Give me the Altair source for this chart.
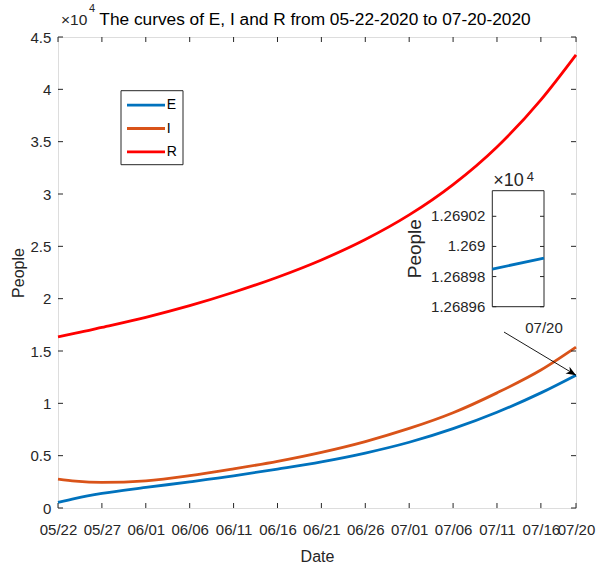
import altair as alt
import pandas as pd

# ---------------- data ----------------
days = [0, 2, 5, 10, 15, 20, 25, 30, 35, 40, 45, 50, 55, 59]
E_vals = [530, 920, 1390, 1960, 2500, 3070, 3720, 4410, 5250, 6280, 7580, 9150, 11000, 12689.92]
I_vals = [2760, 2560, 2440, 2600, 3090, 3740, 4460, 5320, 6350, 7600, 9100, 11000, 13180, 15370]
R_vals = [16360, 16700, 17260, 18220, 19330, 20610, 22050, 23700, 25650, 28000, 30900, 34500, 39000, 43300]
series = ["E", "I", "R"]
colors = ["#0072BD", "#D95319", "#FF0000"]

tick_days = [0, 5, 10, 15, 20, 25, 30, 35, 40, 45, 50, 55, 59]
tick_labels = ["05/22", "05/27", "06/01", "06/06", "06/11", "06/16", "06/21",
               "06/26", "07/01", "07/06", "07/11", "07/16", "07/20"]
y_ticks = [0, 5000, 10000, 15000, 20000, 25000, 30000, 35000, 40000, 45000]
x_domain = [0, 59]
y_domain = [0, 45000]

# zoomed inset (E near 07/20)
inset_x = [58.9998, 59.0]
inset_E = [12689.849, 12689.923]
inset_x_domain = [58.9998, 59.0]
inset_y_domain = [12689.6, 12690.37]
inset_y_ticks = [12689.6, 12689.8, 12690.0, 12690.2]
inset_y_labels = ["1.26896", "1.26898", "1.269", "1.26902"]
inset_x_ticks = [59.0]
inset_x_labels = ["07/20"]

# arrow pointing from the inset to the end of E
arrow_x = [50.8, 59.0]
arrow_y = [16810, 12689.92]

title_text = "The curves of E, I and R from 05-22-2020 to 07-20-2020"

# ---------------- layout / style ----------------
W, H = 518, 471
FONT = "Liberation Sans"
AX = "#262626"

rows = []
for name, vals in zip(series, [E_vals, I_vals, R_vals]):
    for d, v in zip(days, vals):
        rows.append({"day": d, "people": v, "series": name})
df = pd.DataFrame(rows)

df_xt = pd.DataFrame({"d": tick_days, "lo": y_domain[0], "hi": y_domain[1]})
df_yt = pd.DataFrame({"v": y_ticks, "lo": x_domain[0], "hi": x_domain[1]})
df_arrow = pd.DataFrame({"x0": [arrow_x[0]], "y0": [arrow_y[0]],
                         "x1": [arrow_x[1]], "y1": [arrow_y[1]]})
df_head = pd.DataFrame({"x": [arrow_x[1]], "y": [arrow_y[1]]})
df_sci = pd.DataFrame({"x": [x_domain[0]], "y": [y_domain[1]]})

df_inset = pd.DataFrame({"x": inset_x, "y": inset_E})
df_box = pd.DataFrame({"x0": [inset_x_domain[0]], "x1": [inset_x_domain[1]],
                       "y0": [inset_y_domain[0]], "y1": [inset_y_domain[1]]})
df_iyt = pd.DataFrame({"v": inset_y_ticks, "label": inset_y_labels,
                       "lo": inset_x_domain[0], "hi": inset_x_domain[1]})
df_ixl = pd.DataFrame({"x": inset_x_ticks, "label": inset_x_labels, "y": inset_y_domain[0]})
df_ititle = pd.DataFrame({"x": [inset_x_domain[0]],
                          "y": [(inset_y_domain[0] + inset_y_domain[1]) / 2]})
df_isci = pd.DataFrame({"x": [inset_x_domain[0]], "y": [inset_y_domain[1]]})

xs = alt.Scale(domain=x_domain, nice=False, zero=False)
ys = alt.Scale(domain=y_domain, nice=False, zero=False)


def mx(f, axis=None):
    return alt.X(f, type="quantitative", scale=xs, axis=axis)


def my(f, axis=None):
    return alt.Y(f, type="quantitative", scale=ys, axis=axis)


lab_js = "[" + ",".join("'%s'" % t for t in tick_labels) + "]"
val_js = "[" + ",".join(str(t) for t in tick_days) + "]"

x_axis = alt.Axis(values=tick_days, labelExpr=f"{lab_js}[indexof({val_js}, datum.value)]",
                  ticks=False, tickSize=0, domain=False, grid=False, labelPadding=14,
                  labelFont=FONT, labelFontSize=15, labelColor=AX,
                  labelFlush=False, labelOverlap=False,
                  title="Date", titleFont=FONT, titleFontSize=16, titleFontWeight="normal",
                  titleColor=AX, titleX=W / 2, titleY=48, titleBaseline="middle",
                  titleAlign="center")
y_axis = alt.Axis(values=y_ticks, labelExpr="format(datum.value/10000, '.1~f')",
                  ticks=False, tickSize=0, domain=False, grid=False, labelPadding=7.2,
                  labelFont=FONT, labelFontSize=15, labelColor=AX,
                  labelFlush=False, labelOverlap=False,
                  title="People", titleFont=FONT, titleFontSize=16, titleFontWeight="normal",
                  titleColor=AX, titleX=-40, titleY=H / 2, titleBaseline="middle",
                  titleAlign="center", titleAngle=270)

legend = alt.Legend(orient="none", legendX=62.5, legendY=53.2, title=None,
                    symbolType="M-2.303,0L2.303,0", symbolSize=272.25, symbolStrokeWidth=2.8,
                    symbolOffset=10.5, labelOffset=10.7, labelFont=FONT, labelFontSize=14,
                    labelColor="#000", padding=5, rowPadding=6.3, strokeColor=AX,
                    fillColor="white", symbolFillColor="transparent")

lines = alt.Chart(df).mark_line(strokeWidth=2.8, interpolate="monotone").encode(
    x=mx("day", x_axis),
    y=my("people", y_axis),
    color=alt.Color("series:N", scale=alt.Scale(domain=series, range=colors), legend=legend),
)

# inward ticks on all four sides of the main axes
tick_b = alt.Chart(df_xt).mark_rule(color=AX, strokeWidth=1, y2Offset=-5).encode(
    x=mx("d"), y=my("lo"), y2="lo:Q")
tick_t = alt.Chart(df_xt).mark_rule(color=AX, strokeWidth=1, y2Offset=5).encode(
    x=mx("d"), y=my("hi"), y2="hi:Q")
tick_l = alt.Chart(df_yt).mark_rule(color=AX, strokeWidth=1, x2Offset=5).encode(
    y=my("v"), x=mx("lo"), x2="lo:Q")
tick_r = alt.Chart(df_yt).mark_rule(color=AX, strokeWidth=1, x2Offset=-5).encode(
    y=my("v"), x=mx("hi"), x2="hi:Q")

arrow = alt.Chart(df_arrow).mark_rule(color="black", strokeWidth=0.9).encode(
    x=mx("x0"), y=my("y0"), x2="x1:Q", y2="y1:Q")
head = alt.Chart(df_head).mark_point(shape="M0,0L-0.55,1.4L0,1.0L0.55,1.4Z", filled=True,
                                     color="black", opacity=1, size=200, angle=121,
                                     strokeWidth=0).encode(x=mx("x"), y=my("y"))

sci1 = alt.Chart(df_sci).mark_text(text="×10", font=FONT, fontSize=15.5, color=AX,
                                   align="left", baseline="alphabetic",
                                   xOffset=3, yOffset=-12).encode(x=mx("x"), y=my("y"))
sci2 = alt.Chart(df_sci).mark_text(text="4", font=FONT, fontSize=11, color=AX,
                                   align="left", baseline="alphabetic",
                                   xOffset=31, yOffset=-25).encode(x=mx("x"), y=my("y"))

title = alt.Chart(df_sci).mark_text(text=title_text, font=FONT, fontSize=17.3, color="#000",
                                    align="center", baseline="alphabetic").encode(
    x=alt.value(257), y=alt.value(-12))

# ---------------- inset ----------------
BX0, BX1, BY0, BY1 = 434.3, 486.0, 269.7, 153.7
isx = alt.Scale(domain=inset_x_domain, range=[BX0, BX1], nice=False, zero=False)
isy = alt.Scale(domain=inset_y_domain, range=[BY0, BY1], nice=False, zero=False)


def ix(f):
    return alt.X(f, type="quantitative", scale=isx, axis=None)


def iy(f):
    return alt.Y(f, type="quantitative", scale=isy, axis=None)


box = alt.Chart(df_box).mark_rect(fill="white", stroke=AX, strokeWidth=1).encode(
    x=ix("x0"), x2="x1:Q", y=iy("y0"), y2="y1:Q")
iline = alt.Chart(df_inset).mark_line(color=colors[0], strokeWidth=2.8).encode(
    x=ix("x"), y=iy("y"))
itick_l = alt.Chart(df_iyt).mark_rule(color=AX, strokeWidth=1, x2Offset=4).encode(
    y=iy("v"), x=ix("lo"), x2="lo:Q")
itick_r = alt.Chart(df_iyt).mark_rule(color=AX, strokeWidth=1, x2Offset=-4).encode(
    y=iy("v"), x=ix("hi"), x2="hi:Q")
iylab = alt.Chart(df_iyt).mark_text(font=FONT, fontSize=15, color=AX, align="right",
                                    baseline="middle", xOffset=-7).encode(
    x=ix("lo"), y=iy("v"), text="label:N")
ixlab = alt.Chart(df_ixl).mark_text(font=FONT, fontSize=15, color=AX, align="center",
                                    baseline="middle", yOffset=21.5).encode(
    x=ix("x"), y=iy("y"), text="label:N")
ititle = alt.Chart(df_ititle).mark_text(text="People", font=FONT, fontSize=19, color=AX,
                                        align="center", baseline="middle", angle=270,
                                        xOffset=-77).encode(x=ix("x"), y=iy("y"))
isci1 = alt.Chart(df_isci).mark_text(text="×10", font=FONT, fontSize=18, color=AX,
                                     align="left", baseline="alphabetic",
                                     xOffset=1, yOffset=-4.5).encode(x=ix("x"), y=iy("y"))
isci2 = alt.Chart(df_isci).mark_text(text="4", font=FONT, fontSize=13, color=AX,
                                     align="left", baseline="alphabetic",
                                     xOffset=34.4, yOffset=-10).encode(x=ix("x"), y=iy("y"))

chart = alt.layer(
    lines, tick_b, tick_t, tick_l, tick_r, arrow, head, sci1, sci2, title,
    box, iline, itick_l, itick_r, iylab, ixlab, ititle, isci1, isci2,
).resolve_scale(
    x="independent", y="independent"
).properties(
    width=W, height=H,
    padding={"left": 58, "top": 37, "right": 21, "bottom": 58},
    autosize=alt.AutoSizeParams(type="none"),
).configure_view(stroke=AX, strokeWidth=1).configure(font=FONT, background="white")

chart.save("out.html", embed_options={"renderer": "svg", "actions": False})
